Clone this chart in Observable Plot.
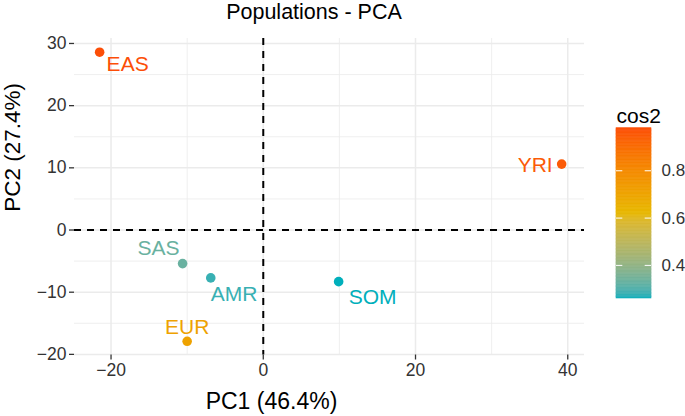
<!DOCTYPE html>
<html><head><meta charset="utf-8">
<script src="https://cdn.jsdelivr.net/npm/d3@7"></script>
<script src="https://cdn.jsdelivr.net/npm/@observablehq/plot@0.6"></script>
<style>
body{margin:0;background:#fff;font-family:"Liberation Sans",Arial,sans-serif;}
#wrap{position:relative;width:685px;height:416px;overflow:hidden;background:#fff;}
#title{position:absolute;left:59px;width:510px;top:0px;text-align:center;font-size:21.5px;line-height:25px;color:#000;}
#main{position:absolute;left:0;top:0;}
#legend{position:absolute;left:600px;top:90px;}
</style></head><body>
<div id="wrap"><div id="main"></div><div id="legend"></div><div id="title">Populations - PCA</div></div>
<script>
// ---- data ----
const populations = ["EAS", "YRI", "SAS", "AMR", "SOM", "EUR"];
const pc1 = [-21.5, 39.2, -10.6, -6.9, 9.9, -10.0];
const pc2 = [28.6, 10.6, -5.4, -7.7, -8.3, -17.9];
const cos2 = [0.98, 0.95, 0.33, 0.28, 0.26, 0.71];
const xTicks = [-20, 0, 20, 40];
const xMinor = [-10, 10, 30];
const yTicks = [-20, -10, 0, 10, 20, 30];
const yMinor = [-15, -5, 5, 15, 25];
const legendTicks = [0.4, 0.6, 0.8];
const gradientColors = ["#00AFBB", "#E7B800", "#FC4E07"];
const xTitle = "PC1 (46.4%)";
const yTitle = "PC2 (27.4%)";
const legendTitle = "cos2";

// ---- label placement (layout, like ggrepel) ----
const labelPlacement = {
  EAS: {textAnchor: "start", dx: 7, dy: 12},
  YRI: {textAnchor: "end", dx: -9, dy: 1},
  SAS: {textAnchor: "end", dx: -3, dy: -15},
  AMR: {textAnchor: "start", dx: 0, dy: 16},
  SOM: {textAnchor: "start", dx: 10, dy: 16},
  EUR: {textAnchor: "middle", dx: 0, dy: -14}
};

const data = populations.map((p, i) => ({pop: p, pc1: pc1[i], pc2: pc2[i], cos2: cos2[i]}));
const cmin = d3.min(cos2), cmax = d3.max(cos2);
const colorScale = {type: "linear", domain: [cmin, cmax], interpolate: d3.piecewise(d3.interpolateLab, gradientColors)};
const font = '"Liberation Sans", Arial, sans-serif';
const grid = "#EBEBEB";

const main = Plot.plot({
  width: 685, height: 416,
  marginLeft: 74, marginRight: 101, marginTop: 38, marginBottom: 61.5,
  x: {domain: [-24.8, 42.2]},
  y: {domain: [-20.1, 30.8]},
  color: colorScale,
  style: {fontFamily: font, background: "transparent", color: "#333", overflow: "visible"},
  marks: [
    Plot.ruleX(xMinor, {stroke: grid, strokeWidth: 0.8}),
    Plot.ruleY(yMinor, {stroke: grid, strokeWidth: 0.8}),
    Plot.ruleX(xTicks, {stroke: grid, strokeWidth: 1.5}),
    Plot.ruleY(yTicks, {stroke: grid, strokeWidth: 1.5}),
    Plot.ruleX([0], {stroke: "#000", strokeWidth: 2, strokeDasharray: "7,6"}),
    Plot.ruleY([0], {stroke: "#000", strokeWidth: 2, strokeDasharray: "7,6"}),
    Plot.axisX(xTicks, {tickSize: 5, tickPadding: 4, fontSize: 17.5, label: null, stroke: "#333", strokeWidth: 1.3, fill: "#333"}),
    Plot.axisY(yTicks, {tickSize: 5, tickPadding: 3, fontSize: 17.5, label: null, stroke: "#333", strokeWidth: 1.3, fill: "#333"}),
    Plot.text([xTitle], {frameAnchor: "bottom", dx: -58, dy: 54, text: d => d, fontSize: 23, fill: "#000"}),
    Plot.text([yTitle], {frameAnchor: "left", dx: -62, dy: 15, rotate: -90, text: d => d, fontSize: 22.5, fill: "#000"}),
    Plot.dot(data, {x: "pc1", y: "pc2", fill: "cos2", r: 4.8}),
    ...populations.map(p => Plot.text(data.filter(d => d.pop === p), {
      x: "pc1", y: "pc2", text: "pop", fill: "cos2", fontSize: 21, ...labelPlacement[p]
    }))
  ]
});
document.getElementById("main").appendChild(main);

// ---- colourbar legend ----
const nSteps = 120;
const steps = d3.range(nSteps).map(i => ({
  y1: cmin + (cmax - cmin) * i / nSteps,
  y2: cmin + (cmax - cmin) * (i + 1) / nSteps,
  v: cmin + (cmax - cmin) * (i + 0.5) / nSteps
}));
const legend = Plot.plot({
  width: 85, height: 230,
  marginTop: 37.7, marginBottom: 22, marginLeft: 16, marginRight: 34,
  x: {domain: [0, 1], axis: null},
  y: {domain: [cmin, cmax], axis: null},
  color: colorScale,
  style: {fontFamily: font, background: "transparent", overflow: "visible"},
  marks: [
    Plot.rect(steps, {x1: 0, x2: 1, y1: "y1", y2: "y2", fill: "v", stroke: "v", strokeWidth: 0.6}),
    Plot.ruleY(legendTicks, {x1: 0, x2: 0.18, stroke: "#fff", strokeWidth: 1}),
    Plot.ruleY(legendTicks, {x1: 0.82, x2: 1, stroke: "#fff", strokeWidth: 1}),
    Plot.text(legendTicks, {x: 1, y: d => d, text: d => d.toFixed(1), dx: 10, textAnchor: "start", fontSize: 17, fill: "#333"}),
    Plot.text([legendTitle], {frameAnchor: "top-left", dx: 0, dy: -19.7, text: d => d, textAnchor: "start", fontSize: 21, fill: "#000"})
  ]
});
document.getElementById("legend").appendChild(legend);
</script>
</body></html>
